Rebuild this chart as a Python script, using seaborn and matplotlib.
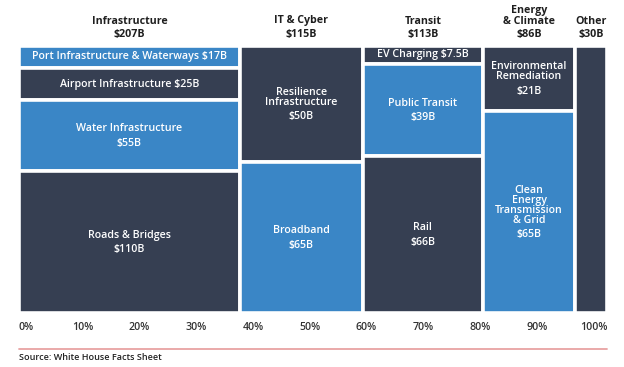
import os
import numpy as np
import pandas as pd
import matplotlib
matplotlib.use("Agg")
import matplotlib.pyplot as plt
import seaborn as sns
from matplotlib.lines import Line2D
from matplotlib import font_manager as fm

# ---------------- data ----------------
categories = ["Infrastructure", "IT & Cyber", "Transit", "Energy\n& Climate", "Other"]
category_totals = [207, 115, 113, 86, 30]

segment_category = (["Infrastructure"] * 4 + ["IT & Cyber"] * 2 + ["Transit"] * 3
                    + ["Energy\n& Climate"] * 2 + ["Other"])
segment_names = ["Port Infrastructure & Waterways", "Airport Infrastructure",
                 "Water Infrastructure", "Roads & Bridges",
                 "Resilience\nInfrastructure", "Broadband",
                 "EV Charging", "Public Transit", "Rail",
                 "Environmental\nRemediation", "Clean\nEnergy\nTransmission\n& Grid",
                 ""]
segment_values = [17, 25, 55, 110, 50, 65, 7.5, 39, 66, 21, 65, 30]

tick_values = [0, 10, 20, 30, 40, 50, 60, 70, 80, 90, 100]
tick_labels = ["0%", "10%", "20%", "30%", "40%", "50%", "60%", "70%", "80%", "90%", "100%"]
source_text = "Source: White House Facts Sheet"

# ---------------- style ----------------
sns.set_theme(style="white")
plt.rcParams["font.family"] = ["Open Sans", "DejaVu Sans"]

FONT_DIR = "/usr/share/fonts/truetype/open-sans/"


def fp(fname, size, weight):
    path = os.path.join(FONT_DIR, fname)
    if os.path.exists(path):
        return fm.FontProperties(fname=path, size=size)
    return fm.FontProperties(family="DejaVu Sans", size=size, weight=weight)


FS = 7.7
F_SEMI = fp("OpenSans-Semibold.ttf", FS, "semibold")
F_BOLD = fp("OpenSans-Bold.ttf", FS, "bold")
F_TICK = fp("OpenSans-Semibold.ttf", FS, "semibold")
F_SRC = fp("OpenSans-Semibold.ttf", 6.5, "normal")

BLUE = "#3A86C6"
NAVY = "#363F52"
light_segments = {"Port Infrastructure & Waterways", "Water Infrastructure", "Broadband",
                  "Public Transit", "Clean\nEnergy\nTransmission\n& Grid"}
inline_segments = {"Port Infrastructure & Waterways", "Airport Infrastructure", "EV Charging"}

PX = 0.72  # points per pixel at dpi 100
LS = 0.88

df = pd.DataFrame({"category": segment_category, "name": segment_names,
                   "value": segment_values})

fig = plt.figure(figsize=(6.24, 3.67), dpi=100)
ax = fig.add_axes([19 / 624, 1 - 313 / 367, 588 / 624, 267 / 367])

grand = sum(category_totals)
widths = [t / grand * 100 for t in category_totals]
lefts = np.concatenate([[0], np.cumsum(widths)[:-1]])

for cat, left, width, total in zip(categories, lefts, widths, category_totals):
    sub = df[df["category"] == cat]
    ssum = sub["value"].sum()
    top = 1.0
    for _, row in sub.iterrows():
        h = row["value"] / ssum
        bottom = top - h
        color = BLUE if row["name"] in light_segments else NAVY
        ax.bar(left, h, width=width, bottom=bottom, align="edge", color=color,
               edgecolor="white", linewidth=2.6)
        xc, yc = left + width / 2, bottom + h / 2
        vlabel = f"${row['value']:g}B"
        if row["name"] == "":
            pass
        elif row["name"] in inline_segments:
            ax.annotate(f"{row['name']} {vlabel}", (xc, yc), ha="center", va="center",
                        color="white", fontproperties=F_SEMI)
        else:
            n = row["name"].count("\n") + 1
            ax.annotate(row["name"], (xc, yc), xytext=(0, 6.75 * PX), textcoords="offset points",
                        ha="center", va="center", color="white", fontproperties=F_SEMI,
                        linespacing=LS)
            ax.annotate(vlabel, (xc, yc), xytext=(0, -((n - 1) * 5 + 7.5) * PX),
                        textcoords="offset points", ha="center", va="center",
                        color="white", fontproperties=F_SEMI)
        top = bottom

    # header
    n = cat.count("\n") + 1
    ax.annotate(f"${total:g}B", (left + width / 2, 1), xytext=(0, 11.5 * PX),
                textcoords="offset points", ha="center", va="center", color="#1f1f1f",
                fontproperties=F_BOLD, annotation_clip=False)
    ax.annotate(cat, (left + width / 2, 1), xytext=(0, (25 + (n - 1) * 5) * PX),
                textcoords="offset points", ha="center", va="center", color="#1f1f1f",
                fontproperties=F_BOLD, linespacing=LS, annotation_clip=False)

ax.set_xlim(0, 100)
ax.set_ylim(0, 1)
ax.set_xticks([])
ax.set_yticks([])
for s in ax.spines.values():
    s.set_visible(False)

# percentage scale (separately placed, as in the reference)
ax2 = ax.twiny()
ax2.set_xlim(-1.23, 102.4)
ax2.xaxis.set_ticks_position("bottom")
ax2.set_xticks(tick_values)
ax2.set_xticklabels(tick_labels, color="#333333")
for lab in ax2.get_xticklabels():
    lab.set_fontproperties(F_TICK)
ax2.tick_params(axis="x", length=0, pad=6.5)
for s in ax2.spines.values():
    s.set_visible(False)
ax2.set_yticks([])

fig.add_artist(Line2D([19 / 624, 607 / 624], [1 - 349 / 367] * 2, color="#E8A3A3", lw=1.3))
fig.text(19 / 624, 1 - 358 / 367, source_text, fontproperties=F_SRC, color="#222222",
         ha="left", va="center")

fig.savefig("out.png", dpi=100)
